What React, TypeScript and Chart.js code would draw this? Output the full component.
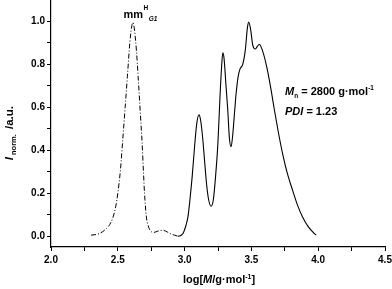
import React, { useEffect, useRef } from "react";
import { Chart, registerables } from "chart.js";

Chart.register(...registerables);

// ---- data ----
const solidX = [2.95, 2.975, 2.99, 3.01, 3.025, 3.04, 3.057, 3.075, 3.09, 3.107, 3.12, 3.135, 3.149, 3.165, 3.18, 3.199, 3.215, 3.232, 3.249, 3.265, 3.278, 3.286, 3.295, 3.31, 3.323, 3.335, 3.348, 3.36, 3.373, 3.386, 3.4, 3.415, 3.435, 3.455, 3.47, 3.48, 3.495, 3.51, 3.53, 3.545, 3.56, 3.58, 3.614, 3.645, 3.672, 3.7, 3.733, 3.77, 3.808, 3.845, 3.883, 3.925, 3.97, 3.985];
const solidY = [0.0, 0.005, 0.015, 0.05, 0.09, 0.17, 0.28, 0.42, 0.52, 0.565, 0.54, 0.46, 0.355, 0.24, 0.17, 0.14, 0.17, 0.28, 0.43, 0.65, 0.8, 0.854, 0.83, 0.7, 0.589, 0.46, 0.417, 0.47, 0.57, 0.667, 0.74, 0.779, 0.8, 0.87, 0.97, 0.997, 0.96, 0.89, 0.872, 0.885, 0.893, 0.87, 0.791, 0.69, 0.589, 0.49, 0.386, 0.29, 0.215, 0.145, 0.09, 0.045, 0.013, 0.005];

const dashX = [2.3, 2.36, 2.415, 2.44, 2.465, 2.485, 2.5, 2.52, 2.535, 2.555, 2.572, 2.59, 2.605, 2.614, 2.625, 2.64, 2.652, 2.668, 2.682, 2.692, 2.7, 2.714, 2.727, 2.745, 2.77, 2.8, 2.838, 2.87, 2.9, 2.925, 2.95];
const dashY = [0.005, 0.012, 0.036, 0.055, 0.09, 0.14, 0.2, 0.31, 0.433, 0.6, 0.745, 0.9, 0.98, 0.995, 0.96, 0.86, 0.745, 0.58, 0.433, 0.3, 0.2, 0.09, 0.05, 0.025, 0.018, 0.024, 0.028, 0.02, 0.01, 0.005, 0.0];

const xTickValues = [2.0, 2.25, 2.5, 2.75, 3.0, 3.25, 3.5, 3.75, 4.0, 4.25, 4.5];
const xLabelValues = [2.0, 2.5, 3.0, 3.5, 4.0, 4.5];
const yTickValues = [0.0, 0.1, 0.2, 0.3, 0.4, 0.5, 0.6, 0.7, 0.8, 0.9, 1.0];
const yLabelValues = [0.0, 0.2, 0.4, 0.6, 0.8, 1.0];

const FONT = "'Liberation Sans', Arial, sans-serif";

type Seg = { text: string; font: string; dy?: number; gap?: number };

function richWidth(ctx: CanvasRenderingContext2D, segs: Seg[]) {
  let w = 0;
  for (const s of segs) {
    ctx.font = s.font;
    w += ctx.measureText(s.text).width + (s.gap || 0);
  }
  return w;
}

function drawRich(ctx: CanvasRenderingContext2D, x: number, y: number, segs: Seg[]) {
  let cx = x;
  for (const s of segs) {
    ctx.font = s.font;
    ctx.fillText(s.text, cx, y + (s.dy || 0));
    cx += ctx.measureText(s.text).width + (s.gap || 0);
  }
}

const b = (px: number) => `bold ${px}px ${FONT}`;
const bi = (px: number) => `italic bold ${px}px ${FONT}`;

const textPlugin = {
  id: "richText",
  afterDraw(chart: any) {
    const ctx: CanvasRenderingContext2D = chart.ctx;
    const area = chart.chartArea;
    ctx.save();
    ctx.fillStyle = "#000";
    ctx.textBaseline = "alphabetic";
    ctx.textAlign = "left";

    // x title
    const xt: Seg[] = [
      { text: "log[", font: b(11) },
      { text: "M", font: bi(11) },
      { text: "/g·mol", font: b(11) },
      { text: "-1", font: b(7), dy: -4 },
      { text: "]", font: b(11) },
    ];
    const xw = richWidth(ctx, xt);
    drawRich(ctx, (area.left + area.right) / 2 - xw / 2 + 1, 283, xt);

    // y title (rotated)
    const yt: Seg[] = [
      { text: "I", font: bi(11.5), gap: 2 },
      { text: "norm.", font: b(7.5), dy: 3, gap: 2 },
      { text: " /a.u.", font: b(11.5) },
    ];
    const yw = richWidth(ctx, yt);
    ctx.save();
    ctx.translate(13, 106 + yw);
    ctx.rotate(-Math.PI / 2);
    drawRich(ctx, 0, 0, yt);
    ctx.restore();

    // peak label
    const px = chart.scales.x.getPixelForValue(2.6);
    ctx.font = b(11);
    const mmw = ctx.measureText("mm").width;
    ctx.font = b(6.5);
    const hw = ctx.measureText("H").width;
    ctx.font = b(11);
    ctx.fillText("mm", px - mmw / 2 + 2, 18);
    ctx.font = b(6.5);
    ctx.fillText("H", px + mmw / 2 + 2.5, 10);
    ctx.font = bi(6.5);
    ctx.fillText("G1", px + mmw / 2 + 2.5 + hw + 0.5, 21);

    // Mn / PDI
    const mn: Seg[] = [
      { text: "M", font: bi(11) },
      { text: "n", font: b(6.5), dy: 3 },
      { text: " = 2800 g·mol", font: b(11) },
      { text: "-1", font: b(6.5), dy: -5 },
    ];
    drawRich(ctx, 285, 95, mn);
    const pdi: Seg[] = [
      { text: "PDI", font: bi(11) },
      { text: " = 1.23", font: b(11) },
    ];
    drawRich(ctx, 285, 115, pdi);

    ctx.restore();
  },
};

export default function App() {
  const ref = useRef<HTMLCanvasElement | null>(null);
  useEffect(() => {
    if (!ref.current) return;
    const solid = solidX.map((x, i) => ({ x, y: solidY[i] }));
    const dash = dashX.map((x, i) => ({ x, y: dashY[i] }));
    const chart = new Chart(ref.current, {
      type: "line",
      data: {
        datasets: [
          {
            data: dash,
            borderColor: "#000",
            borderWidth: 1,
            borderDash: [5, 2, 1, 2],
            pointRadius: 0,
            cubicInterpolationMode: "monotone",
            fill: false,
          },
          {
            data: solid,
            borderColor: "#000",
            borderWidth: 1.1,
            pointRadius: 0,
            cubicInterpolationMode: "monotone",
            fill: false,
          },
        ],
      },
      options: {
        responsive: false,
        animation: false,
        layout: { padding: { left: 0, right: 7, top: 0, bottom: 0 } },
        plugins: { legend: { display: false }, tooltip: { enabled: false } },
        scales: {
          x: {
            type: "linear",
            min: 2,
            max: 4.5,
            afterBuildTicks: (s: any) => {
              s.ticks = xTickValues.map((v) => ({ value: v }));
            },
            afterFit: (s: any) => {
              s.height = 42;
              s.paddingLeft = 0;
              s.paddingRight = 0;
              s.paddingTop = 0;
              s.paddingBottom = 0;
            },
            ticks: {
              autoSkip: false,
              maxRotation: 0,
              padding: 3,
              color: "#000",
              font: { family: FONT, size: 10, weight: "bold" },
              callback: (v: any) =>
                xLabelValues.some((l) => Math.abs(l - v) < 1e-6) ? Number(v).toFixed(1) : "",
            },
            grid: { drawOnChartArea: false, drawTicks: true, tickLength: 4, color: "#000", lineWidth: 1 },
            border: { display: true, color: "#000", width: 1.2 },
          },
          y: {
            type: "linear",
            min: -0.05,
            max: 1.1,
            afterBuildTicks: (s: any) => {
              s.ticks = yTickValues.map((v) => ({ value: v }));
            },
            afterFit: (s: any) => {
              s.width = 51;
              s.paddingLeft = 0;
              s.paddingRight = 0;
              s.paddingTop = 0;
              s.paddingBottom = 0;
            },
            ticks: {
              autoSkip: false,
              padding: 2,
              color: "#000",
              font: { family: FONT, size: 10, weight: "bold" },
              callback: (v: any) =>
                yLabelValues.some((l) => Math.abs(l - v) < 1e-6) ? Number(v).toFixed(1) : "",
            },
            grid: { drawOnChartArea: false, drawTicks: true, tickLength: 4, color: "#000", lineWidth: 1 },
            border: { display: true, color: "#000", width: 1.2 },
          },
        },
      } as any,
      plugins: [textPlugin],
    });
    return () => chart.destroy();
  }, []);
  return (
    <div style={{ position: "fixed", left: 0, top: 0, width: 392, height: 289, background: "#fff" }}>
      <canvas ref={ref} width={392} height={289} style={{ display: "block" }} />
    </div>
  );
}
